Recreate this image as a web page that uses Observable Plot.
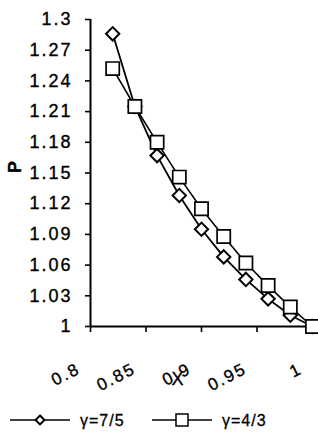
<!DOCTYPE html>
<html>
<head>
<meta charset="utf-8">
<script src="https://cdn.jsdelivr.net/npm/d3@7"></script>
<script src="https://cdn.jsdelivr.net/npm/@observablehq/plot@0.6"></script>
<style>
  html, body { margin: 0; padding: 0; background: #fff; }
  #wrap { width: 318px; height: 441px; position: relative; overflow: hidden; }
  #chart svg text { letter-spacing: 2px; stroke: #000; stroke-width: 0.35px; }
  #legend { width: 318px; height: 41px; }
  #legend text { stroke: #000; stroke-width: 0.3px; }
</style>
</head>
<body>
<div id="wrap">
  <div id="chart"></div>
  <div id="legend"></div>
</div>
<script>
// ---- data ----
const xValues = [0.82, 0.84, 0.86, 0.88, 0.90, 0.92, 0.94, 0.96, 0.98, 1.00];
const pGamma75 = [1.286, 1.215, 1.167, 1.128, 1.095, 1.068, 1.046, 1.027, 1.011, 1.000];
const pGamma43 = [1.252, 1.215, 1.180, 1.146, 1.115, 1.088, 1.062, 1.040, 1.019, 1.000];
const seriesNames = ["γ=7/5", "γ=4/3"];
const xTicks = [0.8, 0.85, 0.9, 0.95, 1.0];
const xTickLabels = ["0.8", "0.85", "0.9", "0.95", "1"];
const yTicks = [1, 1.03, 1.06, 1.09, 1.12, 1.15, 1.18, 1.21, 1.24, 1.27, 1.3];
const yTickLabels = ["1", "1.03", "1.06", "1.09", "1.12", "1.15", "1.18", "1.21", "1.24", "1.27", "1.3"];
const xDomain = [0.8, 1.0];
const yDomain = [1, 1.3];
const xTitle = "X";
const yTitle = "P";

const d75 = xValues.map((x, i) => ({x, p: pGamma75[i]}));
const d43 = xValues.map((x, i) => ({x, p: pGamma43[i]}));

const plot = Plot.plot({
  width: 318,
  height: 400,
  marginLeft: 90,
  marginRight: 6,
  marginTop: 19,
  marginBottom: 74,
  style: {fontFamily: "'Liberation Sans', Arial, sans-serif", fontSize: "18px", color: "#000", background: "#fff"},
  x: {domain: xDomain},
  y: {domain: yDomain},
  marks: [
    Plot.axisY({ticks: yTicks, tickFormat: d => yTickLabels[yTicks.findIndex(t => Math.abs(t - d) < 1e-9)], tickSize: 5, tickPadding: 13, label: null, strokeWidth: 1.6, fontSize: 18}),
    Plot.axisX({ticks: xTicks, tickFormat: () => "", tickSize: 6, tickPadding: 0, label: null, strokeWidth: 1.6}),
    Plot.ruleX([xDomain[0]], {y1: yDomain[0], y2: yDomain[1], stroke: "#000", strokeWidth: 2}),
    Plot.ruleY([yDomain[0]], {x1: xDomain[0], x2: xDomain[1], stroke: "#000", strokeWidth: 2}),
    Plot.text(xTicks, {x: d => d, frameAnchor: "bottom", text: (d, i) => xTickLabels[i], rotate: -27, textAnchor: "end", lineAnchor: "bottom", dx: -9, dy: 46, fontSize: 17, fill: "#000"}),
    Plot.text([yTitle], {frameAnchor: "left", dx: -75, rotate: -90, fontSize: 18, fontWeight: "bold", fill: "#000"}),
    Plot.text([xTitle], {frameAnchor: "bottom", dx: -23, dy: 58, fontSize: 18, fill: "#000"}),
    Plot.line(d75, {x: "x", y: "p", stroke: "#000", strokeWidth: 1.8}),
    Plot.dot(d75, {x: "x", y: "p", symbol: "diamond2", r: 6, stroke: "#000", fill: "#fff", strokeWidth: 2}),
    Plot.line(d43, {x: "x", y: "p", stroke: "#000", strokeWidth: 1.6}),
    Plot.dot(d43, {x: "x", y: "p", symbol: "square2", r: 8.4, stroke: "#000", fill: "#fff", strokeWidth: 1.7})
  ]
});
document.getElementById("chart").appendChild(plot);

// ---- legend ----
const leg = d3.select("#legend").append("svg").attr("width", 318).attr("height", 41);
const items = [
  {name: seriesNames[0], x0: 10, sym: "diamond"},
  {name: seriesNames[1], x0: 152, sym: "square"}
];
const cy = 20;
items.forEach(it => {
  const g = leg.append("g");
  g.append("line").attr("x1", it.x0).attr("x2", it.x0 + 60).attr("y1", cy).attr("y2", cy)
    .attr("stroke", "#000").attr("stroke-width", 1.6);
  const cx = it.x0 + 30;
  if (it.sym === "diamond") {
    g.append("path").attr("d", d3.symbol(d3.symbolDiamond2, 50)())
      .attr("transform", `translate(${cx},${cy})`).attr("fill", "#fff").attr("stroke", "#000").attr("stroke-width", 2);
  } else {
    g.append("rect").attr("x", cx - 6).attr("y", cy - 6).attr("width", 12).attr("height", 12)
      .attr("fill", "#fff").attr("stroke", "#000").attr("stroke-width", 1.5);
  }
  g.append("text").attr("x", it.x0 + 70).attr("y", cy).attr("dy", "0.35em")
    .attr("font-family", "'Liberation Sans', Arial, sans-serif").attr("font-size", 16)
    .attr("letter-spacing", "1px").text(it.name);
});
</script>
</body>
</html>
